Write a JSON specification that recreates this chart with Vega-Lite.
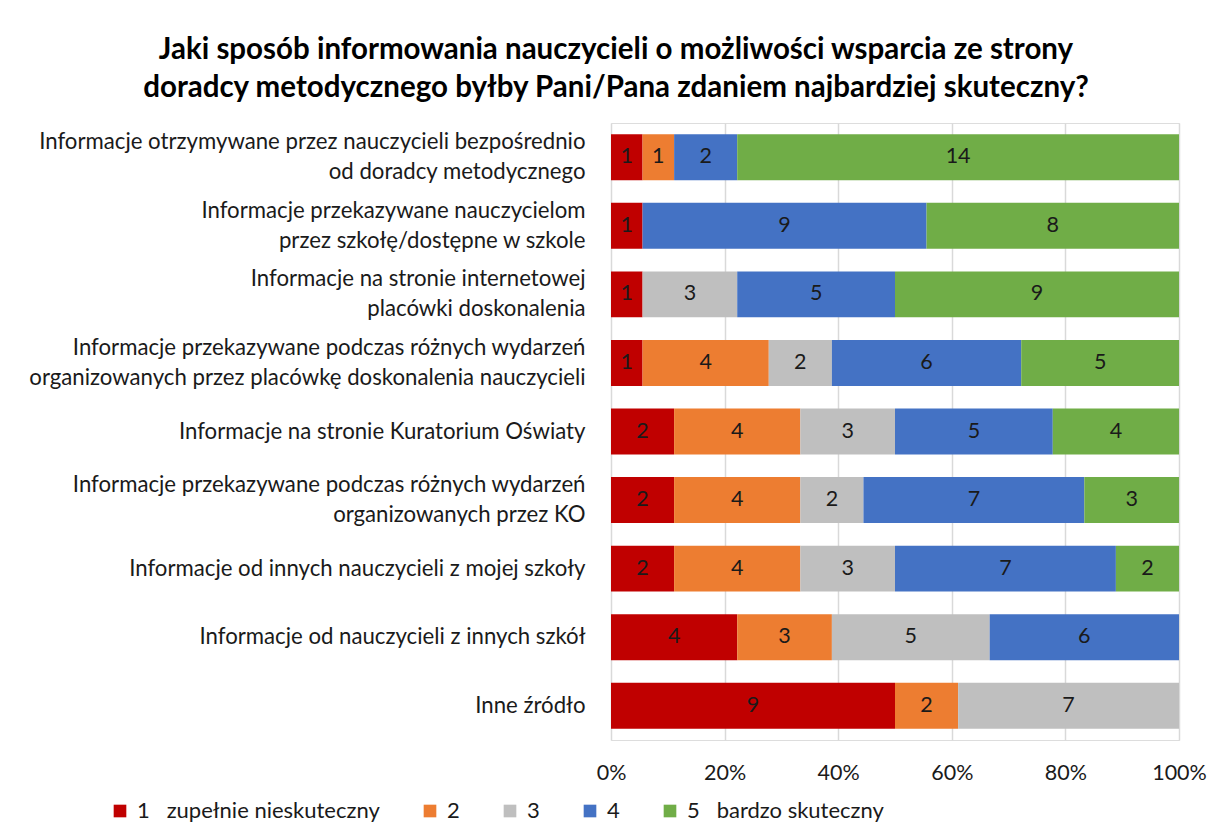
{
  "$schema": "https://vega.github.io/schema/vega-lite/v6.json",
  "width": 568,
  "height": 617,
  "autosize": {"type": "none"},
  "padding": {"left": 611, "top": 123, "right": 53, "bottom": 100},
  "background": "white",
  "title": {
    "text": ["Jaki sposób informowania nauczycieli o możliwości wsparcia ze strony", "doradcy metodycznego byłby Pani/Pana zdaniem najbardziej skuteczny?"],
    "font": "Lato",
    "fontSize": 29.5,
    "fontWeight": "bold",
    "color": "#000000",
    "anchor": "middle",
    "dx": -279,
    "offset": 20,
    "lineHeight": 38
  },
  "data": {
    "values": [
      {"cat": "Informacje otrzymywane przez nauczycieli bezpośrednio|od doradcy metodycznego", "level": "1\u00a0\u00a0\u00a0zupełnie nieskuteczny", "n": 1},
      {"cat": "Informacje otrzymywane przez nauczycieli bezpośrednio|od doradcy metodycznego", "level": "2", "n": 1},
      {"cat": "Informacje otrzymywane przez nauczycieli bezpośrednio|od doradcy metodycznego", "level": "4", "n": 2},
      {"cat": "Informacje otrzymywane przez nauczycieli bezpośrednio|od doradcy metodycznego", "level": "5\u00a0\u00a0\u00a0bardzo skuteczny", "n": 14},
      {"cat": "Informacje przekazywane nauczycielom|przez szkołę/dostępne w szkole", "level": "1\u00a0\u00a0\u00a0zupełnie nieskuteczny", "n": 1},
      {"cat": "Informacje przekazywane nauczycielom|przez szkołę/dostępne w szkole", "level": "4", "n": 9},
      {"cat": "Informacje przekazywane nauczycielom|przez szkołę/dostępne w szkole", "level": "5\u00a0\u00a0\u00a0bardzo skuteczny", "n": 8},
      {"cat": "Informacje na stronie internetowej|placówki doskonalenia", "level": "1\u00a0\u00a0\u00a0zupełnie nieskuteczny", "n": 1},
      {"cat": "Informacje na stronie internetowej|placówki doskonalenia", "level": "3", "n": 3},
      {"cat": "Informacje na stronie internetowej|placówki doskonalenia", "level": "4", "n": 5},
      {"cat": "Informacje na stronie internetowej|placówki doskonalenia", "level": "5\u00a0\u00a0\u00a0bardzo skuteczny", "n": 9},
      {"cat": "Informacje przekazywane podczas różnych wydarzeń|organizowanych przez placówkę doskonalenia nauczycieli", "level": "1\u00a0\u00a0\u00a0zupełnie nieskuteczny", "n": 1},
      {"cat": "Informacje przekazywane podczas różnych wydarzeń|organizowanych przez placówkę doskonalenia nauczycieli", "level": "2", "n": 4},
      {"cat": "Informacje przekazywane podczas różnych wydarzeń|organizowanych przez placówkę doskonalenia nauczycieli", "level": "3", "n": 2},
      {"cat": "Informacje przekazywane podczas różnych wydarzeń|organizowanych przez placówkę doskonalenia nauczycieli", "level": "4", "n": 6},
      {"cat": "Informacje przekazywane podczas różnych wydarzeń|organizowanych przez placówkę doskonalenia nauczycieli", "level": "5\u00a0\u00a0\u00a0bardzo skuteczny", "n": 5},
      {"cat": "Informacje na stronie Kuratorium Oświaty", "level": "1\u00a0\u00a0\u00a0zupełnie nieskuteczny", "n": 2},
      {"cat": "Informacje na stronie Kuratorium Oświaty", "level": "2", "n": 4},
      {"cat": "Informacje na stronie Kuratorium Oświaty", "level": "3", "n": 3},
      {"cat": "Informacje na stronie Kuratorium Oświaty", "level": "4", "n": 5},
      {"cat": "Informacje na stronie Kuratorium Oświaty", "level": "5\u00a0\u00a0\u00a0bardzo skuteczny", "n": 4},
      {"cat": "Informacje przekazywane podczas różnych wydarzeń|organizowanych przez KO", "level": "1\u00a0\u00a0\u00a0zupełnie nieskuteczny", "n": 2},
      {"cat": "Informacje przekazywane podczas różnych wydarzeń|organizowanych przez KO", "level": "2", "n": 4},
      {"cat": "Informacje przekazywane podczas różnych wydarzeń|organizowanych przez KO", "level": "3", "n": 2},
      {"cat": "Informacje przekazywane podczas różnych wydarzeń|organizowanych przez KO", "level": "4", "n": 7},
      {"cat": "Informacje przekazywane podczas różnych wydarzeń|organizowanych przez KO", "level": "5\u00a0\u00a0\u00a0bardzo skuteczny", "n": 3},
      {"cat": "Informacje od innych nauczycieli z mojej szkoły", "level": "1\u00a0\u00a0\u00a0zupełnie nieskuteczny", "n": 2},
      {"cat": "Informacje od innych nauczycieli z mojej szkoły", "level": "2", "n": 4},
      {"cat": "Informacje od innych nauczycieli z mojej szkoły", "level": "3", "n": 3},
      {"cat": "Informacje od innych nauczycieli z mojej szkoły", "level": "4", "n": 7},
      {"cat": "Informacje od innych nauczycieli z mojej szkoły", "level": "5\u00a0\u00a0\u00a0bardzo skuteczny", "n": 2},
      {"cat": "Informacje od nauczycieli z innych szkół", "level": "1\u00a0\u00a0\u00a0zupełnie nieskuteczny", "n": 4},
      {"cat": "Informacje od nauczycieli z innych szkół", "level": "2", "n": 3},
      {"cat": "Informacje od nauczycieli z innych szkół", "level": "3", "n": 5},
      {"cat": "Informacje od nauczycieli z innych szkół", "level": "4", "n": 6},
      {"cat": "Inne źródło", "level": "1\u00a0\u00a0\u00a0zupełnie nieskuteczny", "n": 9},
      {"cat": "Inne źródło", "level": "2", "n": 2},
      {"cat": "Inne źródło", "level": "3", "n": 7}
    ]
  },
  "transform": [
    {"stack": "n", "groupby": ["cat"], "sort": [{"field": "level", "order": "ascending"}], "offset": "normalize", "as": ["x0", "x1"]},
    {"calculate": "(datum.x0 + datum.x1) / 2", "as": "xm"}
  ],
  "encoding": {
    "y": {
      "field": "cat",
      "type": "nominal",
      "sort": null,
      "scale": {"paddingInner": 0.33, "paddingOuter": 0.165},
      "axis": {
        "title": null,
        "labelExpr": "split(datum.label, '|')",
        "labelFont": "Lato",
        "labelFontSize": 22.2,
        "labelColor": "#1a1a1a",
        "labelLineHeight": 30,
        "labelOffset": {"condition": {"test": "indexof(datum.value, '|') >= 0", "value": -15}, "value": 0},
        "labelPadding": 26,
        "labelLimit": 620,
        "ticks": false,
        "domain": false,
        "grid": false
      }
    }
  },
  "layer": [
    {
      "mark": {"type": "bar"},
      "encoding": {
        "x": {
          "field": "x0",
          "type": "quantitative",
          "scale": {"domain": [0, 1], "nice": false},
          "axis": {
            "title": null,
            "format": ".0%",
            "values": [0, 0.2, 0.4, 0.6, 0.8, 1],
            "labelFont": "Lato",
            "labelFontSize": 21.5,
            "labelColor": "#1a1a1a",
            "labelPadding": 22,
            "labelFlush": false,
            "ticks": false,
            "domain": false,
            "grid": true,
            "gridColor": "#D9D9D9",
            "gridWidth": 1.5
          }
        },
        "x2": {"field": "x1"},
        "color": {
          "field": "level",
          "type": "nominal",
          "scale": {
            "domain": ["1\u00a0\u00a0\u00a0zupełnie nieskuteczny", "2", "3", "4", "5\u00a0\u00a0\u00a0bardzo skuteczny"],
            "range": ["#C00000", "#ED7D31", "#BFBFBF", "#4472C4", "#70AD47"]
          },
          "legend": {
            "title": null,
            "orient": "none",
            "legendX": -502,
            "legendY": 677,
            "direction": "horizontal",
            "symbolType": "square",
            "symbolSize": 160,
            "symbolStrokeWidth": 0,
            "labelFont": "Lato",
            "labelFontSize": 22,
            "labelColor": "#1a1a1a",
            "labelLimit": 400,
            "columnPadding": 39,
            "labelOffset": 6
          }
        }
      }
    },
    {
      "mark": {"type": "text", "font": "Lato", "fontSize": 21.5, "color": "#1a1a1a"},
      "encoding": {
        "x": {"field": "xm", "type": "quantitative"},
        "text": {"field": "n", "type": "quantitative"}
      }
    }
  ]
}
